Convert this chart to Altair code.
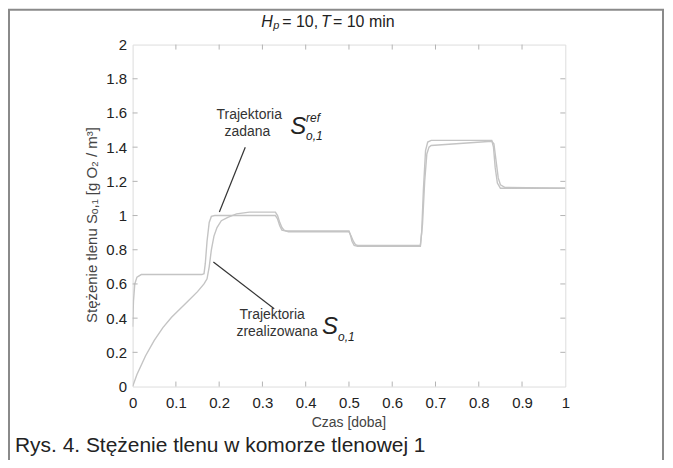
import altair as alt
import pandas as pd

# ---------------- data ----------------
ref_t = [0.0, 0.002, 0.005, 0.01, 0.02, 0.16, 0.165, 0.168, 0.172, 0.177, 0.182, 0.19,
         0.33, 0.335, 0.34, 0.345, 0.355, 0.5, 0.503, 0.507, 0.512, 0.52,
         0.665, 0.668, 0.672, 0.677, 0.682, 0.69, 0.83, 0.834, 0.838, 0.843, 0.85, 1.0]
ref_v = [0.35, 0.5, 0.6, 0.64, 0.655, 0.655, 0.66, 0.72, 0.85, 0.96, 0.995, 1.0,
         1.0, 0.98, 0.94, 0.915, 0.91, 0.91, 0.89, 0.85, 0.825, 0.82,
         0.82, 0.9, 1.15, 1.38, 1.43, 1.44, 1.44, 1.4, 1.28, 1.19, 1.16, 1.16]

real_t = [0.0, 0.01, 0.03, 0.05, 0.07, 0.09, 0.11, 0.13, 0.15, 0.165, 0.172, 0.177,
          0.182, 0.188, 0.195, 0.205, 0.22, 0.24, 0.27, 0.33, 0.335, 0.34, 0.345,
          0.35, 0.36, 0.37, 0.5, 0.505, 0.51, 0.515, 0.52, 0.53, 0.665, 0.67, 0.675,
          0.68, 0.685, 0.69, 0.83, 0.835, 0.84, 0.845, 0.85, 0.86, 1.0]
real_v = [0.0, 0.07, 0.18, 0.27, 0.345, 0.405, 0.455, 0.505, 0.555, 0.6, 0.63, 0.7,
          0.8, 0.88, 0.93, 0.97, 0.99, 1.01, 1.02, 1.02, 1.0, 0.96, 0.93,
          0.915, 0.905, 0.905, 0.905, 0.88, 0.85, 0.83, 0.825, 0.825, 0.825, 0.95, 1.2,
          1.36, 1.4, 1.41, 1.435, 1.42, 1.32, 1.22, 1.18, 1.165, 1.16]

x_ticks = [0.0, 0.1, 0.2, 0.3, 0.4, 0.5, 0.6, 0.7, 0.8, 0.9, 1.0]
y_ticks = [0.0, 0.2, 0.4, 0.6, 0.8, 1.0, 1.2, 1.4, 1.6, 1.8, 2.0]

x_title = "Czas [doba]"
y_title = "Stężenie tlenu Sₒ,₁ [g O₂ / m³]"
caption = "Rys. 4. Stężenie tlenu w komorze tlenowej 1"
ann_ref = ["Trajektoria", "zadana"]
ann_real = ["Trajektoria", "zrealizowana"]

# ---------------- styling ----------------
FONT = "Liberation Sans"
AX = "#b4b4b4"
LINE = "#c4c4c4"
TXT = "#222222"
W, H = 434, 343

xs = alt.Scale(domain=[0, 1], nice=False, zero=False)
ys = alt.Scale(domain=[0, 2], nice=False, zero=False)

x_axis = alt.Axis(values=x_ticks, format="~g", ticks=False, domain=False, grid=False,
                  labelFontSize=15, labelColor=TXT, labelPadding=9, labelFont=FONT,
                  labelFlush=False, labelOverlap=False, title=None)
y_axis = alt.Axis(values=y_ticks, format="~g", ticks=False, domain=False, grid=False,
                  labelFontSize=15, labelColor=TXT, labelPadding=6, labelFont=FONT,
                  labelFlush=False, labelOverlap=False, title=None)

X = alt.X("t:Q", scale=xs, axis=x_axis)
Y = alt.Y("v:Q", scale=ys, axis=y_axis)

df = pd.concat([
    pd.DataFrame({"t": ref_t, "v": ref_v, "s": "ref"}),
    pd.DataFrame({"t": real_t, "v": real_v, "s": "real"}),
])

one = pd.DataFrame({"a": [0]})

frame = alt.Chart(one).mark_rect(fill="white", fillOpacity=0, stroke="#8a8a8a",
                                 strokeWidth=2).encode(
    x=alt.value(-124), x2=alt.value(532), y=alt.value(-35), y2=alt.value(430))

lines = alt.Chart(df).mark_line(color=LINE, strokeWidth=1.4, clip=True).encode(
    x=X, y=Y, detail="s:N")

xt = pd.DataFrame({"t": x_ticks[1:-1]})
yt = pd.DataFrame({"v": y_ticks[1:-1]})
tick_b = alt.Chart(xt).mark_rule(color=AX).encode(x=X, y=alt.value(H), y2=alt.value(H - 5))
tick_t = alt.Chart(xt).mark_rule(color=AX).encode(x=X, y=alt.value(0), y2=alt.value(5))
tick_l = alt.Chart(yt).mark_rule(color=AX).encode(y=Y, x=alt.value(0), x2=alt.value(5))
tick_r = alt.Chart(yt).mark_rule(color=AX).encode(y=Y, x=alt.value(W), x2=alt.value(W - 5))


def txt(s, x, y, size, italic=False, align="left", color=TXT, angle=0):
    return alt.Chart(one).mark_text(
        text=s, fontSize=size, fontStyle="italic" if italic else "normal",
        align=align, baseline="middle", color=color, font=FONT, angle=angle
    ).encode(x=alt.value(x), y=alt.value(y))


def seg(x1, y1, x2, y2):
    return alt.Chart(one).mark_rule(color="#333333", strokeWidth=1.2).encode(
        x=alt.value(x1), y=alt.value(y1), x2=alt.value(x2), y2=alt.value(y2))


texts = [
    # title
    txt("H", 129, -23, 16, italic=True),
    txt("p", 141, -19, 11, italic=True),
    txt("= 10,", 150, -23, 16),
    txt("T", 189, -23, 16, italic=True),
    txt("= 10 min", 201, -23, 16),
    # axis titles
    txt(x_title, 217, 380, 14, align="center", color="#444444"),
    txt(y_title, -41, 181, 15, align="center", color="#444444", angle=270),
    # caption
    txt(caption, -118, 403, 21),
    # annotation: reference trajectory
    txt(ann_ref[0], 117, 71, 14, align="center", color="#333333"),
    txt(ann_ref[1], 115, 88, 14, align="center", color="#333333"),
    txt("S", 158, 83, 24, italic=True),
    txt("ref", 174, 74, 12, italic=True),
    txt("o,1", 174, 92, 12, italic=True),
    seg(113, 103, 87, 168),
    # annotation: realised trajectory
    txt(ann_real[0], 140, 271, 14, align="center", color="#333333"),
    txt(ann_real[1], 145, 288, 14, align="center", color="#333333"),
    txt("S", 190, 283, 24, italic=True),
    txt("o,1", 206, 293, 12, italic=True),
    seg(81, 218, 142, 265),
]

chart = alt.layer(frame, lines, tick_b, tick_t, tick_l, tick_r, *texts).properties(
    width=W, height=H,
    autosize=alt.AutoSizeParams(type="none"),
    padding={"left": 125, "top": 36, "right": 100, "bottom": 73},
).configure_view(stroke=AX, strokeWidth=1).configure(background="white")

chart.save("out.html", embed_options={"renderer": "svg", "actions": False})
